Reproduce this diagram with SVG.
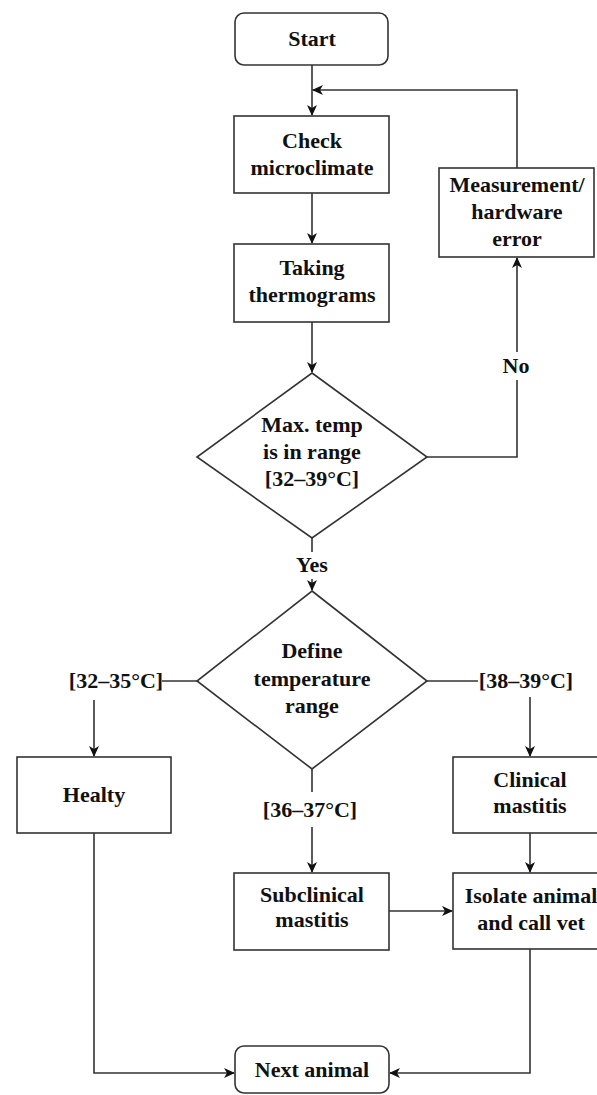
<svg xmlns="http://www.w3.org/2000/svg" width="597" height="1095" viewBox="0 0 597 1095">
<style>
.box{fill:#fff;stroke:#333;stroke-width:1.6}
.t{font-family:"Liberation Serif","Times New Roman",serif;font-weight:bold;font-size:22px;fill:#111;text-anchor:middle}
.c{fill:none;stroke:#333;stroke-width:1.6}
</style>
<defs>
<marker id="ah" markerWidth="11" markerHeight="10" refX="10" refY="5" orient="auto" markerUnits="userSpaceOnUse">
<path d="M0,0 L11,5 L0,10 L3,5 Z" fill="#111"/>
</marker>
</defs>
<rect width="597" height="1095" fill="#fff"/>
<g id="connectors">
<path class="c" d="M312,65 V115" marker-end="url(#ah)"/>
<path class="c" d="M312,193 V243" marker-end="url(#ah)"/>
<path class="c" d="M312,322 V372" marker-end="url(#ah)"/>
<path class="c" d="M427,457 H517 V380"/>
<path class="c" d="M517,352 V258" marker-end="url(#ah)"/>
<path class="c" d="M517,168 V90 H313" marker-end="url(#ah)"/>
<path class="c" d="M312,538 V552"/>
<path class="c" d="M312,579 V590" marker-end="url(#ah)"/>
<path class="c" d="M197,681 H162"/>
<path class="c" d="M94,700 V756" marker-end="url(#ah)"/>
<path class="c" d="M427,681 H478"/>
<path class="c" d="M530,697 V756" marker-end="url(#ah)"/>
<path class="c" d="M312,769 V792"/>
<path class="c" d="M312,827 V872" marker-end="url(#ah)"/>
<path class="c" d="M530,833 V872" marker-end="url(#ah)"/>
<path class="c" d="M389,911 H452" marker-end="url(#ah)"/>
<path class="c" d="M94,833 V1073 H234" marker-end="url(#ah)"/>
<path class="c" d="M530,949 V1073 H390" marker-end="url(#ah)"/>
<text class="t" x="516" y="373">No</text>
<text class="t" x="312" y="572">Yes</text>
<text class="t" x="116" y="688">[32–35°C]</text>
<text class="t" x="526" y="688">[38–39°C]</text>
<text class="t" x="310" y="817">[36–37°C]</text>
</g>
<g id="start">
<rect class="box" x="235" y="13" width="153" height="52" rx="9"/>
<text class="t" x="312" y="46">Start</text>
</g>
<g id="check">
<rect class="box" x="234" y="116" width="155" height="77"/>
<text class="t" x="312" y="148">Check</text>
<text class="t" x="312" y="175">microclimate</text>
</g>
<g id="taking">
<rect class="box" x="234" y="244" width="155" height="78"/>
<text class="t" x="312" y="275">Taking</text>
<text class="t" x="312" y="302">thermograms</text>
</g>
<g id="error">
<rect class="box" x="439" y="168" width="155" height="89"/>
<text class="t" x="517" y="192">Measurement/</text>
<text class="t" x="517" y="219">hardware</text>
<text class="t" x="517" y="246">error</text>
</g>
<g id="maxtemp">
<polygon class="box" points="312,373 427,457 312,538 197,457"/>
<text class="t" x="312" y="432">Max. temp</text>
<text class="t" x="312" y="459">is in range</text>
<text class="t" x="312" y="486">[32–39°C]</text>
</g>
<g id="define">
<polygon class="box" points="312,591 427,681 312,769 197,681"/>
<text class="t" x="312" y="658">Define</text>
<text class="t" x="312" y="686">temperature</text>
<text class="t" x="312" y="713">range</text>
</g>
<g id="healty">
<rect class="box" x="17" y="757" width="154" height="76"/>
<text class="t" x="94" y="802">Healty</text>
</g>
<g id="clinical">
<rect class="box" x="453" y="757" width="155" height="76"/>
<text class="t" x="530" y="787">Clinical</text>
<text class="t" x="530" y="813">mastitis</text>
</g>
<g id="subclinical">
<rect class="box" x="234" y="873" width="155" height="77"/>
<text class="t" x="312" y="902">Subclinical</text>
<text class="t" x="312" y="927">mastitis</text>
</g>
<g id="isolate">
<rect class="box" x="453" y="873" width="155" height="76"/>
<text class="t" x="531" y="903">Isolate animal</text>
<text class="t" x="531" y="930">and call vet</text>
</g>
<g id="next">
<rect class="box" x="235" y="1046" width="154" height="47" rx="9"/>
<text class="t" x="312" y="1077">Next animal</text>
</g>
</svg>
